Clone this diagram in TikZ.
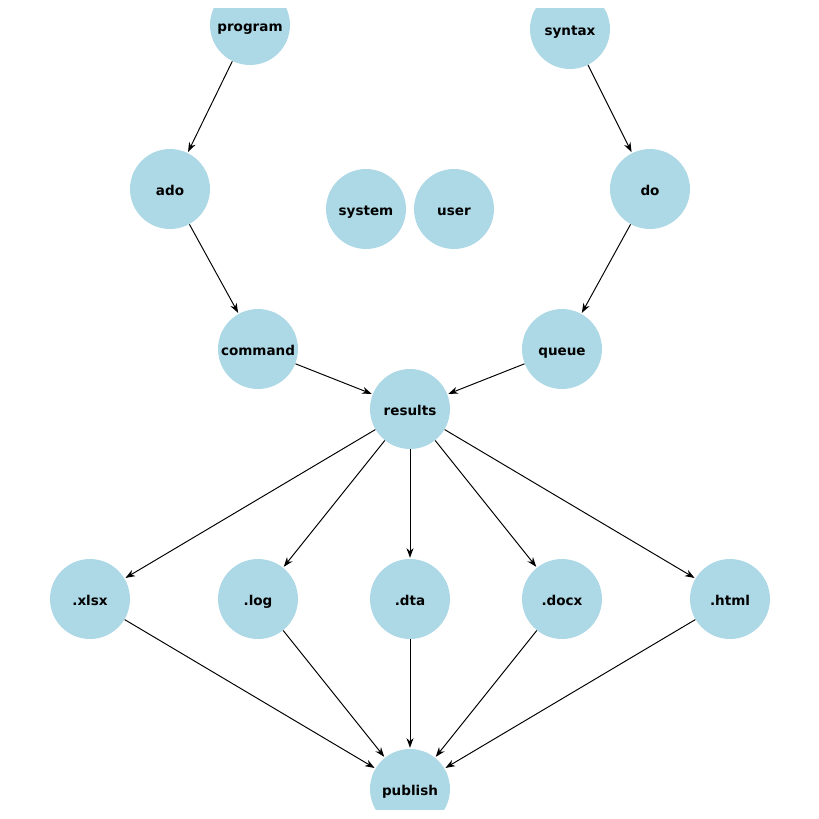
\documentclass[tikz,border=0pt]{standalone}
\usepackage{fontspec}
\setmainfont{DejaVu Sans}
\usetikzlibrary{arrows.meta}
\definecolor{nodeblue}{HTML}{ADD8E6}
\begin{document}
\begin{tikzpicture}[
	x=0.02cm, y=-0.02cm,
	vertex/.style={ circle, fill=nodeblue, inner sep=0pt, minimum size=1.6cm, text height=0.9em, text depth=0.2em, font=\fontsize{7.7}{9}\selectfont\bfseries },
	edge/.style={ -{Stealth[length=5.5pt,width=4pt]}, line width=0.55pt, shorten >=0.5pt }
]
\useasboundingbox (0,0) rectangle (819,819);
\clip (0,8) rectangle (819,809);

\node at (250,25) (program) [vertex] {program};
\node at (570,29) (syntax) [vertex] {syntax};
\node at (170,189) (ado) [vertex] {ado};
\node at (650,189) (do) [vertex] {do};
\node at (366,209) (system) [vertex] {system};
\node at (454,209) (user) [vertex] {user};
\node at (258,349) (command) [vertex] {command};
\node at (562,349) (queue) [vertex] {queue};
\node at (410,409) (results) [vertex] {results};
\node at (90,599) (xlsx) [vertex] {.xlsx};
\node at (258,599) (log) [vertex] {.log};
\node at (410,599) (dta) [vertex] {.dta};
\node at (562,599) (docx) [vertex] {.docx};
\node at (730,599) (html) [vertex] {.html};
\node at (410,789) (publish) [vertex] {publish};

\draw [edge] (program) to (ado);
\draw [edge] (ado) to (command);
\draw [edge] (syntax) to (do);
\draw [edge] (do) to (queue);
\foreach \p in {command,queue} \draw [edge] (\p) to (results);
\foreach \p in {xlsx,log,dta,docx,html} {
	\draw [edge] (results) to (\p);
	\draw [edge] (\p) to (publish);
}

\end{tikzpicture}
\end{document}
